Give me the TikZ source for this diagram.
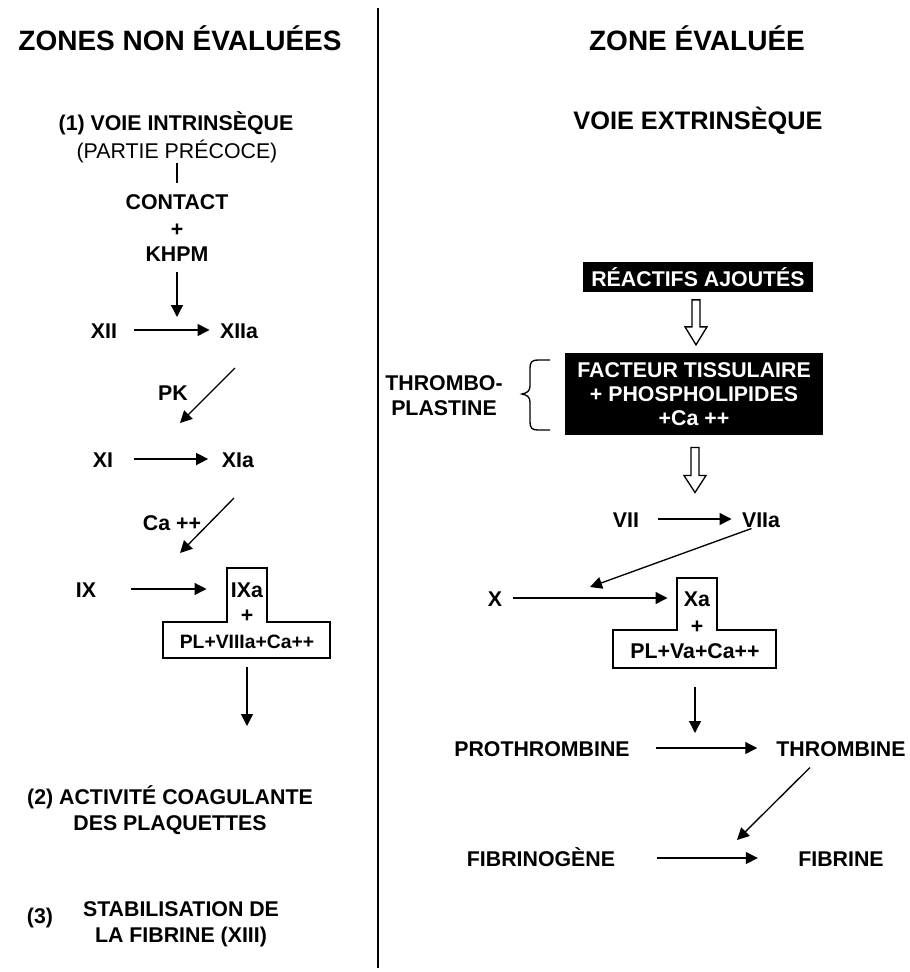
\documentclass[tikz,border=0pt]{standalone}
\usepackage{fontspec}
\setmainfont{Liberation Sans}
\usetikzlibrary{arrows.meta,calc}

\tikzset{every picture/.style={line width=0.75pt}}
\tikzset{
  lbl/.style={font=\bfseries\fontsize{16}{19}\selectfont, inner sep=0pt, text height=12pt, text depth=0pt},
  mlbl/.style={font=\bfseries\fontsize{16}{19.5}\selectfont, inner sep=0pt, align=center},
  ttl/.style={font=\bfseries\fontsize{21}{25}\selectfont, inner sep=0pt},
  blk/.style={fill=black, text=white, inner sep=0pt, align=center, font=\bfseries\fontsize{16}{18}\selectfont},
  arr/.style={line width=1pt, -{Triangle[length=9pt,width=9pt]}},
  edge/.style={line width=1pt},
}

\begin{document}
\begin{tikzpicture}[x=0.75pt,y=0.75pt,yscale=-1,xscale=1]
	\useasboundingbox (0,0) rectangle (910,972);

	%Straight Lines: divider
	\draw [line width=1.5pt] (378,8) -- (378,968);

	% Text Node
	\node [ttl] (zne) at (180,38) {ZONES NON ÉVALUÉES};
	% Text Node
	\node [ttl] (ze) at (697,38) {ZONE ÉVALUÉE};

	% Text Node
	\node [lbl] (intr) at (176,122) {(1) VOIE INTRINSÈQUE};
	% Text Node
	\node [lbl, font=\fontsize{16}{19}\selectfont] (precoce) at (177,150) {(PARTIE PRÉCOCE)};
	% Text Node
	\node [lbl] (contact) at (177,201) {CONTACT};
	% Text Node
	\node [lbl] (plusa) at (177,228) {+};
	% Text Node
	\node [lbl] (khpm) at (177,253) {KHPM};
	\coordinate (khpmend) at (177,317);
	% Text Node
	\node [lbl] (xii) at (104,330) {XII};
	% Text Node
	\node [lbl] (xiia) at (239,330) {XIIa};
	\coordinate (pka) at (235,368);
	\coordinate (pkb) at (180,423);
	% Text Node
	\node [lbl] (pk) at (173,392) {PK};
	% Text Node
	\node [lbl] (xi) at (103,459) {XI};
	% Text Node
	\node [lbl] (xia) at (238,459) {XIa};
	\coordinate (caa) at (234,498);
	\coordinate (cab) at (180,553);
	% Text Node
	\node [lbl] (ca) at (172,522) {Ca ++};
	% Text Node
	\node [lbl] (ix) at (86,589) {IX};
	% Text Node
	\node [lbl, minimum width=30pt] (ixa) at (247,589) {IXa};
	% Text Node
	\node [lbl] (plusb) at (247,614) {+};
	% Text Node
	\node [lbl, font=\bfseries\fontsize{14.5}{17}\selectfont] (plviii) at (247,640) {PL+VIIIa+Ca++};
	\coordinate (ixend) at (247,726);
	% Text Node
	\node [mlbl] (activ) at (170,810) {(2) ACTIVITÉ COAGULANTE\\DES PLAQUETTES};
	% Text Node
	\node [lbl] (nthree) at (40,915) {(3)};
	% Text Node
	\node [mlbl] (stab) at (181,924) {STABILISATION DE\\LA FIBRINE (XIII)};

	% Text Node
	\node [lbl, font=\bfseries\fontsize{19}{22}\selectfont] (extr) at (698,121) {VOIE EXTRINSÈQUE};
	% Text Node
	\node [blk, minimum width=172pt, minimum height=23pt] (reactifs) at (698,277) {RÉACTIFS AJOUTÉS};
	% Text Node
	\node [blk, minimum width=194pt, minimum height=61.5pt] (facteur) at (694,394) {FACTEUR TISSULAIRE\\+ PHOSPHOLIPIDES\\+Ca ++};
	% Text Node
	\node [mlbl, font=\bfseries\fontsize{16}{18.75}\selectfont] (thrombo) at (444,396) {THROMBO-\\PLASTINE};
	% Text Node
	\node [lbl] (vii) at (626,519) {VII};
	% Text Node
	\node [lbl] (viia) at (761,519) {VIIa};
	\coordinate (xhit) at (590,587);
	% Text Node
	\node [lbl] (x) at (495,598) {X};
	% Text Node
	\node [lbl, minimum width=30pt] (xa) at (697,598) {Xa};
	% Text Node
	\node [lbl] (plusc) at (697,625) {+};
	% Text Node
	\node [lbl] (plva) at (695,650) {PL+Va+Ca++};
	\coordinate (xend) at (695,733);
	% Text Node
	\node [lbl] (prothr) at (542,748) {PROTHROMBINE};
	% Text Node
	\node [lbl] (thromb) at (841,748) {THROMBINE};
	\coordinate (fhit) at (737,840);
	% Text Node
	\node [lbl] (fibrino) at (541,858) {FIBRINOGÈNE};
	% Text Node
	\node [lbl] (fibrine) at (841,858) {FIBRINE};

	%Shape: T boxes
	\draw [edge] (227,622) -- (227,568) -- (267,568) -- (267,622) -- (330,622) -- (330,658) -- (163,658) -- (163,622) -- cycle;
	\draw [edge] (677,630) -- (677,578) -- (717,578) -- (717,630) -- (776,630) -- (776,668) -- (613,668) -- (613,630) -- cycle;

	%Shape: brace
	\draw [edge] (550,360) -- (538,360) .. controls (532,360) and (530,362) .. (530,368) -- (530,386) .. controls (530,391) and (527,393) .. (522,394) .. controls (527,395) and (530,397) .. (530,402) -- (530,422) .. controls (530,428) and (532,430) .. (538,430) -- (550,430);

	%Shape: hollow arrows
	\draw [edge, fill=white] ($(reactifs.south)+(-6,7)$) -- ++(0,27) -- ++(-7,0) -- ++(11,18) -- ++(11,-18) -- ++(-7,0) -- ++(0,-27) -- cycle;
	\draw [edge, fill=white] ($(facteur.south)+(-3,12)$) -- ++(0,28) -- ++(-7,0) -- ++(11,17) -- ++(11,-17) -- ++(-7,0) -- ++(0,-28) -- cycle;

	%Straight Lines: left column
	\draw [edge, shorten <=3pt, shorten >=7.5pt] (precoce.south) -- (contact.north);
	\draw [arr, shorten <=8pt] (khpm.south) -- (khpmend);
	\draw [arr, shorten <=12pt, shorten >=7.5pt] (xii.east) -- (xiia.west);
	\draw [arr] (pka) -- (pkb);
	\draw [arr, shorten <=15pt, shorten >=10pt] (xi.east) -- (xia.west);
	\draw [arr] (caa) -- (cab);
	\draw [arr, shorten <=26pt, shorten >=15pt] (ix.east) -- (ixa.west);
	\draw [arr, shorten <=14pt] (plviii.south) -- (ixend);

	%Straight Lines: right column
	\draw [arr, shorten <=13.5pt, shorten >=7.5pt] (vii.east) -- (viia.west);
	\draw [arr] ($(viia.south west)+(10,1)$) -- (xhit);
	\draw [arr, shorten <=7.5pt, shorten >=6.75pt] (x.east) -- (xa.west);
	\draw [arr, shorten <=21pt] (plva.south) -- (xend);
	\draw [arr, shorten <=19pt, shorten >=14pt] (prothr.east) -- (thromb.west);
	\draw [arr] ($(thromb.south)+(-31,11)$) -- (fhit);
	\draw [arr, shorten <=30.75pt, shorten >=30pt] (fibrino.east) -- (fibrine.west);

\end{tikzpicture}
\end{document}
